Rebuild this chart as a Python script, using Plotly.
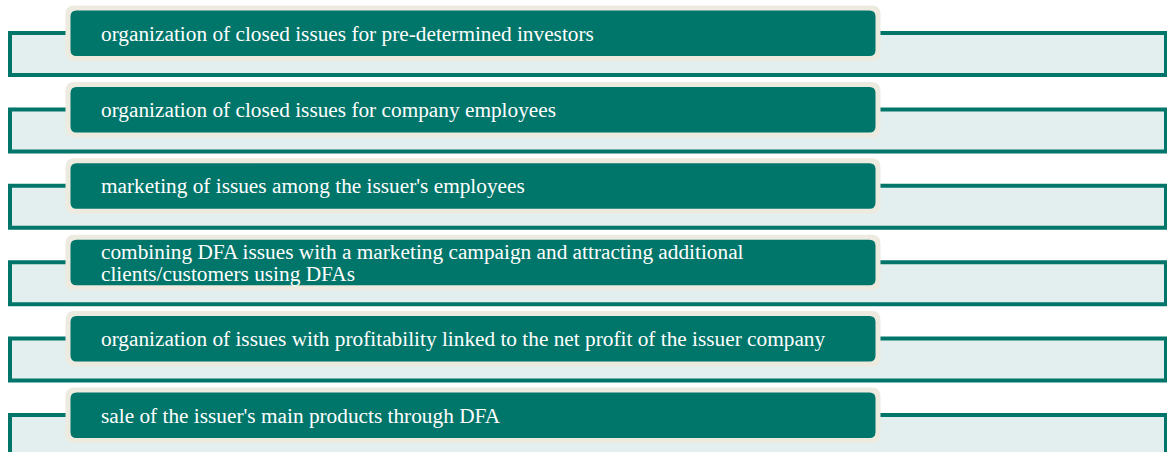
import plotly.graph_objects as go

labels = [
    "organization of closed issues for pre-determined investors",
    "organization of closed issues for company employees",
    "marketing of issues among the issuer's employees",
    "combining DFA issues with a marketing campaign and attracting additional<br>clients/customers using DFAs",
    "organization of issues with profitability linked to the net profit of the issuer company",
    "sale of the issuer's main products through DFA",
]

W, H = 1167, 452
TEAL = "#00756A"
LIGHT = "#E3EEEE"
CREAM = "#EDEAE0"
STEP = 76.4


def rounded(x0, y0, x1, y1, r):
    return (f"M {x0+r},{y0} L {x1-r},{y0} Q {x1},{y0} {x1},{y0+r} "
            f"L {x1},{y1-r} Q {x1},{y1} {x1-r},{y1} L {x0+r},{y1} "
            f"Q {x0},{y1} {x0},{y1-r} L {x0},{y0+r} Q {x0},{y0} {x0+r},{y0} Z")


shapes = []
annotations = []
for i, lab in enumerate(labels):
    o = i * STEP
    shapes.append(dict(type="rect", xref="x", yref="y", x0=10, x1=1166, y0=33 + o, y1=75 + o,
                       fillcolor=LIGHT, line=dict(color=TEAL, width=4), layer="above"))
    shapes.append(dict(type="path", xref="x", yref="y", path=rounded(65.5, 5.5 + o, 880.5, 61 + o, 9),
                       fillcolor=CREAM, line=dict(width=0), layer="above"))
    shapes.append(dict(type="path", xref="x", yref="y", path=rounded(70.5, 10.5 + o, 875.5, 56 + o, 6),
                       fillcolor=TEAL, line=dict(width=0), layer="above"))
    lines = lab.split("<br>")
    cy = 33.5 + o
    lh = 22
    start = cy - lh * (len(lines) - 1) / 2
    for j, ln in enumerate(lines):
        annotations.append(dict(x=99, y=start + j * lh, xref="x", yref="y", text=ln,
                                showarrow=False, xanchor="left", yanchor="middle",
                                font=dict(family="Liberation Serif", size=21.3, color="white")))

fig = go.Figure()
fig.add_trace(go.Scatter(x=[0], y=[0], mode="markers", marker=dict(opacity=0), hoverinfo="skip",
                         showlegend=False))
fig.update_layout(
    width=W, height=H, margin=dict(l=0, r=0, t=0, b=0),
    paper_bgcolor="white", plot_bgcolor="white",
    xaxis=dict(range=[0, W], visible=False, fixedrange=True),
    yaxis=dict(range=[H, 0], visible=False, fixedrange=True),
    shapes=shapes, annotations=annotations, showlegend=False,
)
fig.write_html("out.html", config={"displayModeBar": False},
               post_script="document.body.style.margin='0';document.body.style.overflow='hidden';")
